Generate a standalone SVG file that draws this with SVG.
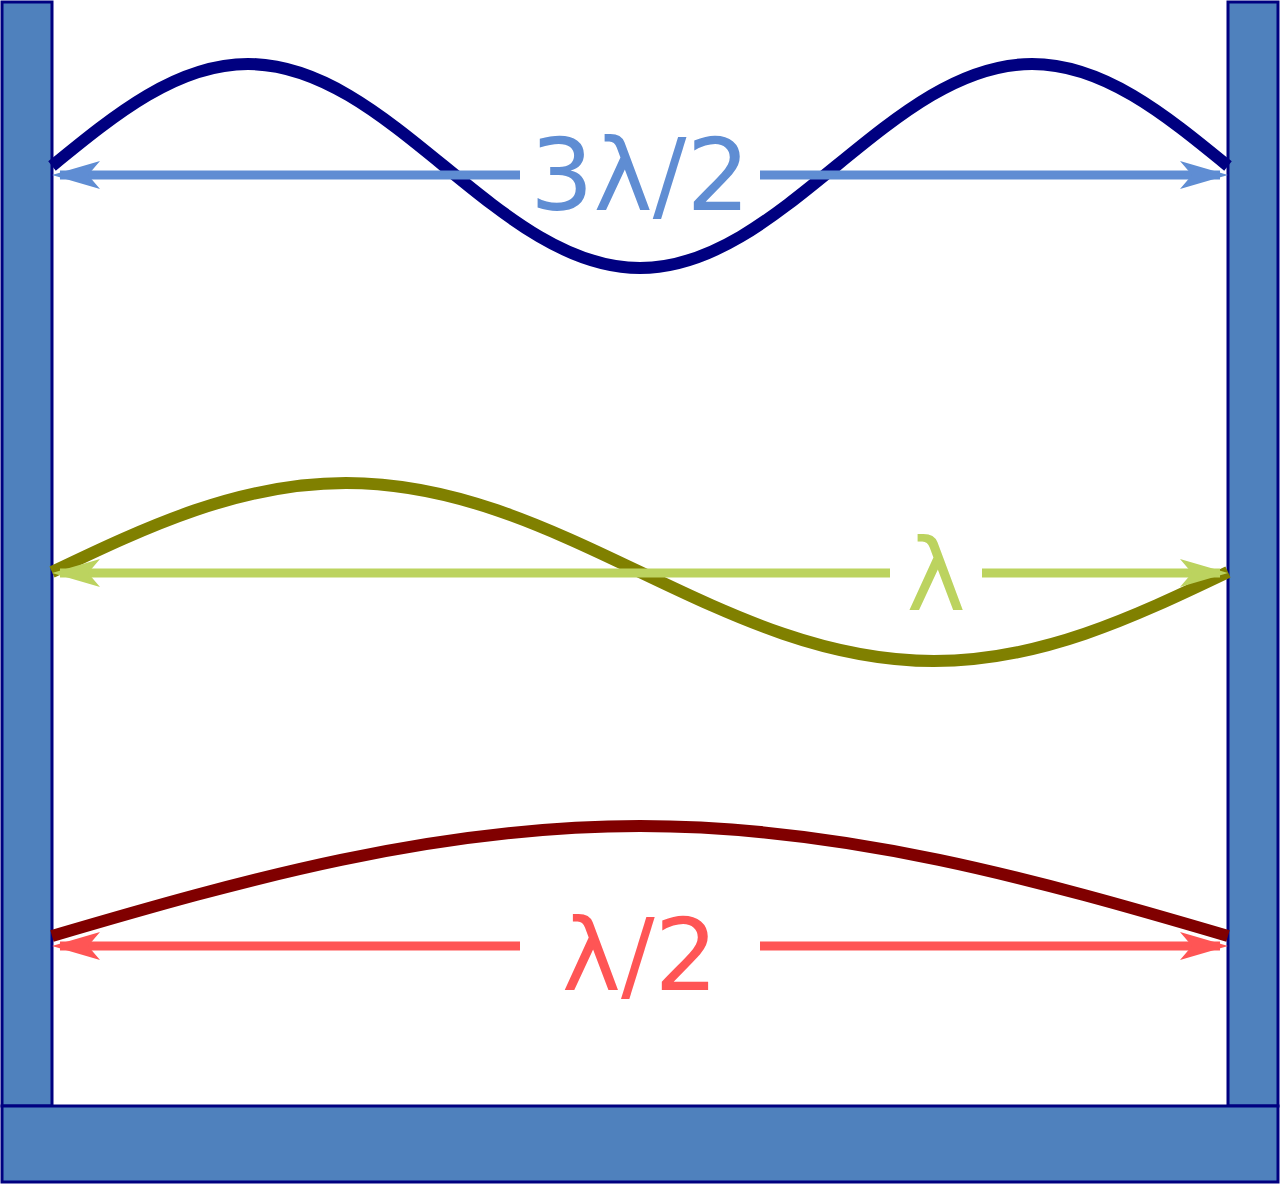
<svg xmlns="http://www.w3.org/2000/svg" width="1280" height="1184" viewBox="0 0 1280 1184">
<style>
.wall{fill:#4f81bd;stroke:#000080;stroke-width:3}
.wave{fill:none;stroke-width:12}
.arr{fill:none;stroke-width:9}
.lbl{font-family:"DejaVu Sans",sans-serif;font-size:100px;text-anchor:middle}
</style>
<defs>
<path id="hl" d="M52,0 L100,-14 L88,0 L100,14 Z"/>
<path id="hr" d="M1228,0 L1180,-14 L1192,0 L1180,14 Z"/>
</defs>
<rect width="1280" height="1184" fill="#fff"/>
<g id="walls">
<rect class="wall" x="2" y="2" width="50" height="1104"/>
<rect class="wall" x="1228" y="2" width="50" height="1104"/>
<rect class="wall" x="2" y="1106" width="1276" height="76"/>
</g>
<g id="waves">
<path class="wave" stroke="#000080" d="M52,166 C115.9,113.7 177.1,64 248,64 C318.9,64 380.1,113.7 444,166 C507.9,218.3 569.1,268 640,268 C710.9,268 772.1,218.3 836,166 C899.9,113.7 961.1,64 1032,64 C1102.9,64 1164.1,113.7 1228,166"/>
<path class="wave" stroke="#808000" d="M52,572 C147.9,526.1 239.6,483 346,483 C452.4,483 544.1,526.1 640,572 C735.9,617.9 827.6,661 934,661 C1040.4,661 1132.1,617.9 1228,572"/>
<path class="wave" stroke="#800000" d="M52,936 C243.7,879.6 435.2,826 640,826 C844.8,826 1036.3,879.6 1228,936"/>
</g>
<g id="connectors">
<g stroke="#5f8dd3" fill="#5f8dd3">
<path class="arr" d="M60,175 H520 M760,175 H1220"/>
<use href="#hl" transform="translate(0,175)" stroke="none"/>
<use href="#hr" transform="translate(0,175)" stroke="none"/>
</g>
<g stroke="#bcd35f" fill="#bcd35f">
<path class="arr" d="M60,573 H890 M982,573 H1220"/>
<use href="#hl" transform="translate(0,573)" stroke="none"/>
<use href="#hr" transform="translate(0,573)" stroke="none"/>
</g>
<g stroke="#ff5555" fill="#ff5555">
<path class="arr" d="M60,946 H520 M760,946 H1220"/>
<use href="#hl" transform="translate(0,946)" stroke="none"/>
<use href="#hr" transform="translate(0,946)" stroke="none"/>
</g>
</g>
<g id="labels">
<text class="lbl" x="640" y="210" fill="#5f8dd3">3λ/2</text>
<text class="lbl" x="936" y="610" fill="#bcd35f">λ</text>
<text class="lbl" x="640" y="990" fill="#ff5555">λ/2</text>
</g>
</svg>
